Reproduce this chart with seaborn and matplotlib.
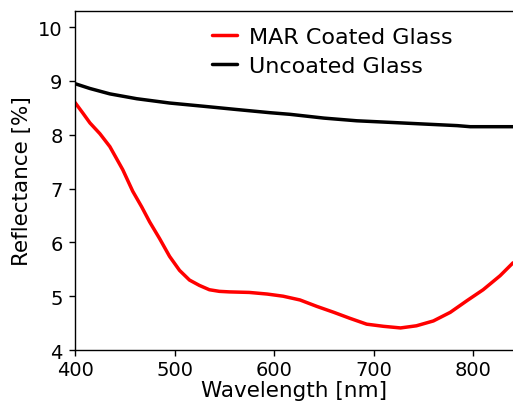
import pandas as pd
import matplotlib
matplotlib.use("Agg")
import matplotlib.pyplot as plt
import seaborn as sns

# Values
mar_wl = [400, 408, 415, 425, 435, 448, 458, 467, 475, 485, 495, 505, 515, 525, 535,
          545, 555, 575, 593, 609, 626, 643, 660, 676, 693, 710, 727, 743, 760, 777,
          794, 810, 827, 840]
mar_refl = [8.60, 8.40, 8.22, 8.02, 7.78, 7.35, 6.95, 6.66, 6.38, 6.07, 5.74, 5.48, 5.30,
            5.20, 5.12, 5.09, 5.08, 5.07, 5.04, 5.00, 4.93, 4.81, 4.70, 4.59, 4.48, 4.44,
            4.41, 4.45, 4.54, 4.70, 4.92, 5.12, 5.38, 5.62]

bare_wl = [400, 415, 435, 462, 495, 529, 562, 596, 616, 650, 683, 717, 750, 784, 797, 840]
bare_refl = [8.95, 8.86, 8.76, 8.67, 8.59, 8.53, 8.47, 8.41, 8.38, 8.31, 8.26, 8.23,
             8.20, 8.17, 8.15, 8.15]

labels = ["MAR Coated Glass", "Uncoated Glass"]

df = pd.concat([
    pd.DataFrame({"Wavelength": mar_wl, "Reflectance": mar_refl, "Sample": labels[0]}),
    pd.DataFrame({"Wavelength": bare_wl, "Reflectance": bare_refl, "Sample": labels[1]}),
])

sns.set_style("ticks")
plt.rcParams["font.family"] = ["DejaVu Sans"]
plt.rcParams["text.color"] = "black"
plt.rcParams["axes.labelcolor"] = "black"
plt.rcParams["xtick.color"] = "black"
plt.rcParams["ytick.color"] = "black"
plt.rcParams["axes.edgecolor"] = "black"

fig = plt.figure(figsize=(5.13, 4.10), dpi=100)
ax = fig.add_axes([0.1462, 0.1439, 0.8538, 0.8268])

sns.lineplot(data=df, x="Wavelength", y="Reflectance", hue="Sample",
             palette={labels[0]: "#ff0000", labels[1]: "black"},
             linewidth=2.5, sort=False, ax=ax)

ax.set_xlim(400, 840)
ax.set_ylim(4, 10.3)
ax.set_xticks([400, 500, 600, 700, 800])
ax.set_yticks([4, 5, 6, 7, 8, 9, 10])
ax.tick_params(labelsize=14, length=4, width=1, direction="out")
ax.tick_params(axis="x", pad=3)
ax.tick_params(axis="y", pad=5)
ax.spines["right"].set_visible(False)
for s in ["left", "bottom", "top"]:
    ax.spines[s].set_linewidth(1.0)

ax.set_xlabel("Wavelength [nm]", fontsize=15.5, labelpad=1)
ax.set_ylabel("Reflectance [%]", fontsize=15.5, labelpad=4)

ax.legend(frameon=False, fontsize=16, loc="upper left",
          bbox_to_anchor=(0.375, 0.98), bbox_transform=fig.transFigure,
          handlelength=1.1, handletextpad=0.55, labelspacing=0.4)

fig.savefig("out.png", dpi=100)
